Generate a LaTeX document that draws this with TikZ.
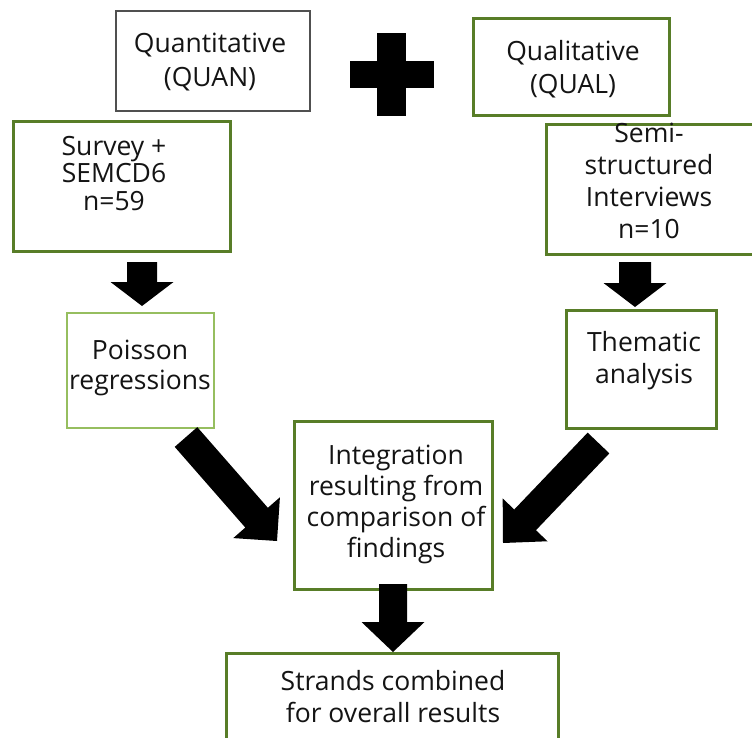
\documentclass[tikz,border=0pt]{standalone}
\usepackage{fontspec}
\setmainfont{Open Sans}
\usetikzlibrary{calc}
\definecolor{boxgreen}{RGB}{88,125,40}
\definecolor{lightgreen}{RGB}{150,190,95}
\definecolor{boxgray}{RGB}{80,80,80}
\definecolor{textcol}{RGB}{20,20,20}
\tikzset{
  boxbase/.style={inner sep=0pt, anchor=north west, fill=white},
  greenbox/.style={boxbase, draw=boxgreen, line width=2.8pt},
  lightbox/.style={boxbase, draw=lightgreen, line width=1.8pt},
  graybox/.style={boxbase, draw=boxgray, line width=2.2pt},
  txt/.style={align=center, inner sep=0pt, anchor=north, text=textcol},
}
\newcommand\blockarr[5]{%
  \coordinate (ba-h) at ($(#2)!#5!(#1)$);
  \fill ($(#1)!#3!90:(#2)$) -- ($(ba-h)!#3!90:(#2)$) -- ($(ba-h)!#4!90:(#2)$) -- (#2)
    -- ($(ba-h)!#4!-90:(#2)$) -- ($(ba-h)!#3!-90:(#2)$) -- ($(#1)!#3!-90:(#2)$) -- cycle;}
\begin{document}
\begin{tikzpicture}[x=1pt,y=-1pt]
\useasboundingbox (0,0) rectangle (752,738);
% boxes
\node[graybox, minimum width=194pt, minimum height=100pt] (quanbox) at (115,10) {};
\node[greenbox, minimum width=196pt, minimum height=97pt] (qualbox) at (472,17) {};
\node[greenbox, minimum width=217pt, minimum height=130pt] (survbox) at (12,120) {};
\node[greenbox, minimum width=210pt, minimum height=130pt] (semibox) at (545,123) {};
\node[lightbox, minimum width=147pt, minimum height=115pt] (poisbox) at (66,312) {};
\node[greenbox, minimum width=150pt, minimum height=118pt] (themebox) at (565,309) {};
\node[greenbox, minimum width=198pt, minimum height=168pt] (integbox) at (293,420) {};
\node[greenbox, minimum width=332pt, minimum height=100pt] (strandbox) at (225,652) {};
% texts
\node[txt, font=\fontsize{26.5}{34}\selectfont] (quantxt) at (210,33) {Quantitative\\(QUAN)};
\node[txt, font=\fontsize{26.5}{33}\selectfont] (qualtxt) at (573,40) {Qualitative\\(QUAL)};
\node[txt, font=\fontsize{26.5}{27.5}\selectfont] (survtxt) at (114,136) {Survey +\\SEMCD6\\n=59};
\node[txt, font=\fontsize{26.5}{32}\selectfont] (semitxt) at (649,123) {Semi-\\structured\\Interviews\\n=10};
\node[txt, font=\fontsize{26.5}{30}\selectfont] (poistxt) at (140,340) {Poisson\\regressions};
\node[txt, font=\fontsize{26.5}{32}\selectfont] (themetxt) at (644,331) {Thematic\\analysis};
\node[txt, font=\fontsize{26.5}{31}\selectfont] (integtxt) at (396,445) {Integration\\resulting from\\comparison of\\findings};
\node[txt, font=\fontsize{26.5}{32}\selectfont] (strandtxt) at (393,670) {Strands combined\\for overall results};
% plus sign
\fill (377,33) rectangle (406,116);
\fill (350,61) rectangle (434,88);
% arrows
\coordinate (sa1) at (142,262); \coordinate (sa2) at (142,306);
\coordinate (qa1) at (635,262); \coordinate (qa2) at (635,307);
\coordinate (la1) at (186,437); \coordinate (la2) at (277,541);
\coordinate (ra1) at (598.5,443); \coordinate (ra2) at (503,543);
\coordinate (ia1) at (393,584); \coordinate (ia2) at (393,652);
\blockarr{sa1}{sa2}{15pt}{31.5pt}{24pt}
\blockarr{qa1}{qa2}{16pt}{31.5pt}{24pt}
\blockarr{la1}{la2}{15pt}{31pt}{31pt}
\blockarr{ra1}{ra2}{15pt}{31pt}{32pt}
\blockarr{ia1}{ia2}{14pt}{31.5pt}{30pt}
\end{tikzpicture}
\end{document}
